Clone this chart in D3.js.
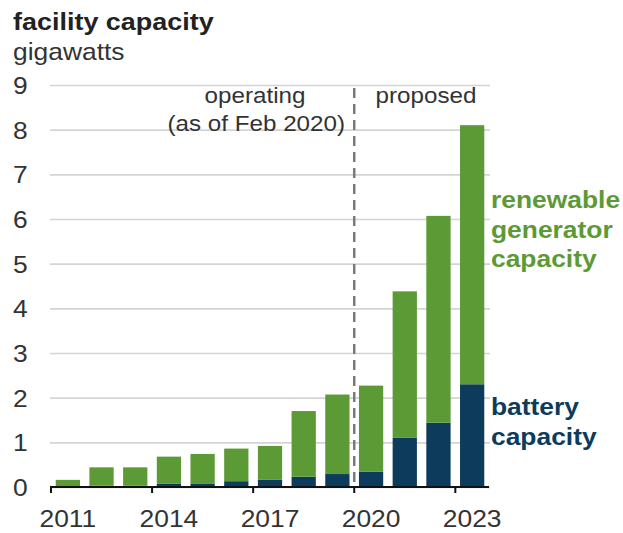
<!DOCTYPE html>
<html lang="en">
<head>
<meta charset="UTF-8">
<title>facility capacity</title>
<style>
  html, body { margin: 0; padding: 0; background: #fff; }
  svg text { font-family: "Liberation Sans", Arial, sans-serif; }
</style>
</head>
<body>
<div id="chart"></div>
<script src="https://d3js.org/d3.v7.min.js"></script>
<script>
// data (gigawatts)
const years = ["2011","2012","2013","2014","2015","2016","2017","2018","2019","2020","2021","2022","2023"];
const battery   = [0.02, 0.03, 0.03, 0.07, 0.08, 0.13, 0.16, 0.23, 0.29, 0.34, 1.10, 1.44, 2.30];
const renewable = [0.14, 0.41, 0.41, 0.61, 0.66, 0.73, 0.76, 1.47, 1.78, 1.93, 3.28, 4.63, 5.80];
const xTickLabels = ["2011","2014","2017","2020","2023"];
const yTicks = [0,1,2,3,4,5,6,7,8,9];

const W = 623, H = 533;
const green = "#5c9a35", navy = "#0c3b5b";
const sx = 1.1; // the source image is a bit stretched sideways

const svg = d3.select("#chart").append("svg")
    .attr("width", W).attr("height", H);

const x = d3.scaleBand()
    .domain(years)
    .range([51, 489])
    .paddingInner(0.28)
    .paddingOuter(0.14);

const y = d3.scaleLinear()
    .domain([0, 9])
    .range([487, 85]);

function label(g, px, py, str, size, weight, fill, anchor) {
    return g.append("text")
        .attr("transform", `translate(${px},${py}) scale(${sx},1)`)
        .attr("text-anchor", anchor || "start")
        .style("font-size", size + "px")
        .style("font-weight", weight || "normal")
        .attr("fill", fill || "#333")
        .text(str);
}

// title
label(svg, 13, 30, "facility capacity", 24.5, "bold", "#222");
label(svg, 13, 60, "gigawatts", 24, "normal", "#333");

// gridlines + y labels
const yAxis = svg.append("g")
    .attr("transform", "translate(50,0)")
    .call(d3.axisLeft(y).tickValues(yTicks).tickSize(-440).tickFormat(d3.format("d")));
yAxis.select(".domain").remove();
yAxis.selectAll("line").attr("stroke", "#d4d4d4").attr("stroke-width", 1.6);
yAxis.selectAll("text")
    .attr("x", null).attr("dy", null)
    .attr("transform", `translate(-37,8.5) scale(${sx},1)`)
    .attr("text-anchor", "start")
    .attr("fill", "#333")
    .style("font-size", "24px");

// stacked bars
const rows = years.map((yr, i) => ({ year: yr, battery: battery[i], renewable: renewable[i] }));
const series = d3.stack().keys(["battery", "renewable"])(rows);
const colors = { battery: navy, renewable: green };

svg.append("g").selectAll("g")
    .data(series)
    .join("g")
    .attr("fill", d => colors[d.key])
    .selectAll("rect")
    .data(d => d)
    .join("rect")
    .attr("x", d => x(d.data.year))
    .attr("width", x.bandwidth())
    .attr("y", d => y(d[1]))
    .attr("height", d => y(d[0]) - y(d[1]));

// dashed divider between operating and proposed
const gap = x.step() * x.paddingInner() / 2;
svg.append("line")
    .attr("x1", x("2020") - gap).attr("x2", x("2020") - gap)
    .attr("y1", 88).attr("y2", y(0))
    .attr("stroke", "#7a7a7a")
    .attr("stroke-width", 2.5)
    .attr("stroke-dasharray", "10,6");

// x axis
const xAxis = svg.append("g")
    .attr("transform", `translate(0,${y(0)})`)
    .call(d3.axisBottom(x).tickValues(xTickLabels).tickSize(0).tickSizeOuter(0));
xAxis.select(".domain").attr("stroke", "#111").attr("stroke-width", 2)
    .attr("d", `M${x.range()[0] - 1},0H${x.range()[1]}`);
xAxis.selectAll("text")
    .attr("y", null).attr("dy", null)
    .attr("transform", `translate(0,40) scale(${sx},1)`)
    .attr("fill", "#333")
    .style("font-size", "24px");
xAxis.selectAll(".tickmark")
    .data(xTickLabels)
    .join("line")
    .attr("class", "tickmark")
    .attr("x1", d => x(d) - gap).attr("x2", d => x(d) - gap)
    .attr("y1", 0).attr("y2", 6)
    .attr("stroke", "#111").attr("stroke-width", 2);

// annotations
label(svg, 255, 103, "operating", 22, "normal", "#333", "middle");
label(svg, 345, 131, "(as of Feb 2020)", 22, "normal", "#333", "end");
label(svg, 426, 103, "proposed", 22, "normal", "#333", "middle");

// series labels
const rLab = ["renewable", "generator", "capacity"];
rLab.forEach((t, i) => label(svg, 491, 208 + i * 29.5, t, 24, "bold", green));
const bLab = ["battery", "capacity"];
bLab.forEach((t, i) => label(svg, 491, 415 + i * 30, t, 24, "bold", navy));
</script>
</body>
</html>
